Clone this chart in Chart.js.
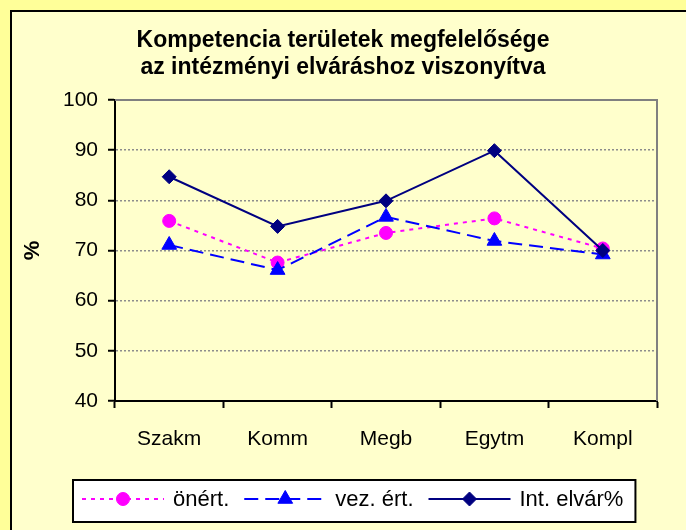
<!DOCTYPE html>
<html>
<head>
<meta charset="utf-8">
<script src="https://cdn.jsdelivr.net/npm/chart.js@4.4.0/dist/chart.umd.min.js"></script>
<style>
  html, body { margin: 0; padding: 0; background: #FFFF99; overflow: hidden; }
  #keret { position: absolute; left: 10px; top: 10px; width: 700px; height: 540px;
           border-left: 2px solid #000; border-top: 2px solid #000; background: #FFFFCC; }
  #wrap { position: absolute; left: 0; top: 0; width: 686px; height: 530px; }
</style>
</head>
<body>
<div id="keret"></div>
<div id="wrap"><canvas id="myChart"></canvas></div>
<script>
// adatok
var teruletek = ['Szakm', 'Komm', 'Megb', 'Egytm', 'Kompl'];
var onert = [75.9, 67.6, 73.5, 76.4, 70.4];
var vezErt = [71.1, 66.1, 76.7, 71.9, 69.2];
var intElvar = [84.7, 74.8, 79.9, 89.9, 70];
var yTicks = [40, 50, 60, 70, 80, 90, 100];

var betu = '"Liberation Sans", Arial, sans-serif';

// szurke keret a rajzterulet tetejen es jobb oldalan
var rajzKeret = {
  id: 'rajzKeret',
  beforeDatasetsDraw(chart) {
    var a = chart.chartArea;
    var ctx = chart.ctx;
    ctx.save();
    ctx.strokeStyle = '#808080';
    ctx.lineWidth = 2;
    ctx.beginPath();
    ctx.moveTo(a.left, a.top);
    ctx.lineTo(a.right, a.top);
    ctx.lineTo(a.right, a.bottom);
    ctx.stroke();
    ctx.restore();
  }
};

// jelmagyarazat doboz, vonal + jelolo
var jelmagyarazat = {
  id: 'jelmagyarazat',
  afterDraw(chart) {
    var ctx = chart.ctx;
    var x0 = 73, y0 = 480, h = 42, cy = y0 + 19;
    ctx.save();
    ctx.font = '22px ' + betu;
    var x = x0 + 9;
    var elemek = [];
    chart.data.datasets.forEach(function (ds) {
      var w = ctx.measureText(ds.label).width;
      elemek.push({ ds: ds, x: x, w: w });
      x += 82 + 9 + w + 15;
    });
    var x1 = x - 15 + 12;
    ctx.fillStyle = '#fff';
    ctx.fillRect(x0, y0, x1 - x0, h);
    ctx.strokeStyle = '#000';
    ctx.lineWidth = 2;
    ctx.strokeRect(x0, y0, x1 - x0, h);
    elemek.forEach(function (e) {
      ctx.strokeStyle = e.ds.borderColor;
      ctx.lineWidth = 2;
      ctx.setLineDash(e.ds.borderDash || []);
      ctx.beginPath();
      ctx.moveTo(e.x, cy);
      ctx.lineTo(e.x + 82, cy);
      ctx.stroke();
      ctx.setLineDash([]);
      ctx.fillStyle = e.ds.backgroundColor;
      ctx.strokeStyle = e.ds.borderColor;
      ctx.lineWidth = 1;
      Chart.helpers.drawPoint(ctx, { pointStyle: e.ds.pointStyle, radius: e.ds.pointRadius, borderWidth: 1, rotation: 0 }, e.x + 41, cy);
      ctx.fillStyle = '#000';
      ctx.textBaseline = 'middle';
      ctx.textAlign = 'left';
      ctx.fillText(e.ds.label, e.x + 91, cy + 1);
    });
    ctx.restore();
  }
};

var ctx = document.getElementById('myChart');
var myChart = new Chart(ctx, {
  type: 'line',
  data: {
    labels: teruletek,
    datasets: [{
      label: 'önért.',
      data: onert,
      borderColor: '#FF00FF',
      backgroundColor: '#FF00FF',
      borderWidth: 2,
      borderDash: [4, 5],
      pointStyle: 'circle',
      pointRadius: 6.5,
      pointBorderWidth: 1,
      tension: 0,
      order: 3
    }, {
      label: 'vez. ért.',
      data: vezErt,
      borderColor: '#0000FF',
      backgroundColor: '#0000FF',
      borderWidth: 2,
      borderDash: [14, 7],
      pointStyle: 'triangle',
      pointRadius: 8.5,
      pointBorderWidth: 1,
      tension: 0,
      order: 2
    }, {
      label: 'Int. elvár%',
      data: intElvar,
      borderColor: '#000080',
      backgroundColor: '#000080',
      borderWidth: 2,
      pointStyle: 'rectRot',
      pointRadius: 7,
      pointBorderWidth: 1,
      tension: 0,
      order: 1
    }]
  },
  options: {
    responsive: true,
    maintainAspectRatio: false,
    animation: false,
    devicePixelRatio: 1,
    layout: { padding: { left: 0, right: 0, top: 0, bottom: 79 } },
    scales: {
      x: {
        offset: true,
        grid: { drawOnChartArea: false, drawTicks: true, tickLength: 7, tickColor: '#000', tickWidth: 2, offset: true },
        border: { color: '#000', width: 2 },
        ticks: { color: '#000', font: { size: 21, family: betu }, padding: 19, maxRotation: 0 },
        afterFit: function (s) { s.height = 50; }
      },
      y: {
        min: 40,
        max: 100,
        afterBuildTicks: function (s) { s.ticks = yTicks.map(function (v) { return { value: v }; }); },
        grid: { color: '#8c8c8c', lineWidth: 1.5, tickColor: '#000', tickLength: 7, tickWidth: 2, tickBorderDash: [] },
        border: { color: '#000', width: 2, dash: [2, 2] },
        ticks: { color: '#000', font: { size: 21, family: betu }, padding: 10 },
        title: { display: true, text: '%', color: '#000', font: { size: 22, weight: 'bold', family: betu }, padding: { top: 20, bottom: 0 } },
        afterFit: function (s) { s.width = 115; }
      },
      // ures jobb oldali tengely, csak helyet foglal
      jobb: {
        position: 'right',
        min: 40,
        max: 100,
        grid: { display: false },
        border: { display: false },
        ticks: { display: false },
        afterFit: function (s) { s.width = 29; }
      }
    },
    plugins: {
      legend: { display: false },
      tooltip: { enabled: false },
      title: {
        display: true,
        text: ['Kompetencia területek megfelelősége', 'az intézményi elváráshoz viszonyítva'],
        color: '#000',
        font: { size: 23, weight: 'bold', family: betu, lineHeight: '27px' },
        padding: { top: 27, bottom: 19 }
      }
    }
  },
  plugins: [rajzKeret, jelmagyarazat]
});
</script>
</body>
</html>
